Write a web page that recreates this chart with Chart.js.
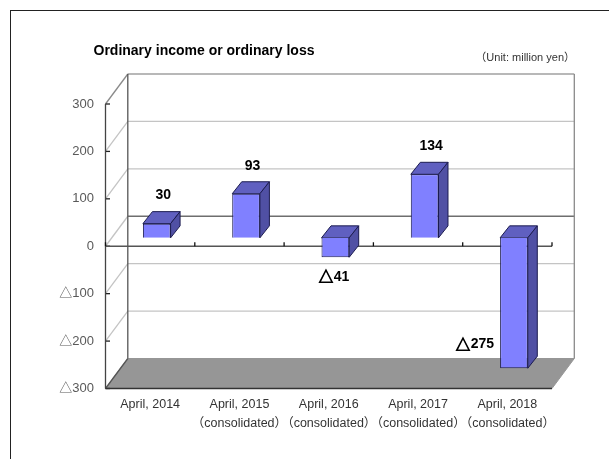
<!DOCTYPE html>
<html>
<head>
<meta charset="utf-8">
<title>Ordinary income or ordinary loss</title>
<script src="https://cdn.jsdelivr.net/npm/chart.js@4"></script>
<style>
    html, body { margin: 0; padding: 0; background: #fff; overflow: hidden; }
    #wrap { position: relative; width: 609px; height: 459px; }
    #frame { position: absolute; left: 10px; top: 10px; right: 0; bottom: 0; border-left: 1px solid #222; border-top: 1px solid #222; }
    canvas { position: absolute; left: 0; top: 0; }
</style>
</head>
<body>
<div id="wrap">
    <div id="frame"></div>
    <canvas id="chart" width="609" height="459"></canvas>
</div>
<script>
const categories = [
    ['April, 2014'],
    ['April, 2015', '（consolidated）'],
    ['April, 2016', '（consolidated）'],
    ['April, 2017', '（consolidated）'],
    ['April, 2018', '（consolidated）']
];
const values = [30, 93, -41, 134, -275];
const titleText = 'Ordinary income or ordinary loss';
const unitText = '（Unit: million yen）';

const FONT = '"Liberation Sans", "Noto Sans CJK JP", sans-serif';
const TRI_FONT = '"Noto Sans CJK JP", sans-serif';

// depth of the 3D box, and how far back the bars stand in it
const WALL_DX = 22.3, WALL_DY = -30;
const BAR_DX = 6.6, BAR_DY = -8.4;
const DEPTH_DX = 9.5, DEPTH_DY = -12;

function fmt(v) {
    return v < 0 ? '△' + (-v) : String(v);
}

function line(ctx, x1, y1, x2, y2, color) {
    ctx.strokeStyle = color;
    ctx.lineWidth = 1.3;
    ctx.beginPath();
    ctx.moveTo(x1, y1);
    ctx.lineTo(x2, y2);
    ctx.stroke();
}

function poly(ctx, pts, fill, stroke) {
    ctx.beginPath();
    pts.forEach((p, i) => i ? ctx.lineTo(p[0], p[1]) : ctx.moveTo(p[0], p[1]));
    ctx.closePath();
    ctx.fillStyle = fill;
    ctx.fill();
    ctx.strokeStyle = stroke;
    ctx.lineWidth = 1;
    ctx.stroke();
}

// right edge given, the triangle is set apart so it can be heavier than the digits
function valueLabel(ctx, v, right, y) {
    const digits = String(Math.abs(v));
    ctx.textAlign = 'right';
    ctx.font = 'bold 14px ' + FONT;
    ctx.fillText(digits, right, y);
    if (v < 0) {
        const w = ctx.measureText(digits).width;
        ctx.font = 'bold 14.5px ' + TRI_FONT;
        ctx.strokeStyle = '#000';
        ctx.lineWidth = 0.9;
        ctx.fillText('△', right - w - 0.5, y);
        ctx.strokeText('△', right - w - 0.5, y);
    }
}

const box3d = {
    id: 'box3d',
    // walls, floor, grid
    beforeDatasetsDraw(chart) {
        const { ctx, chartArea: a, scales: { x, y } } = chart;
        ctx.save();
        poly(ctx, [[a.left, a.bottom], [a.right, a.bottom], [a.right + WALL_DX, a.bottom + WALL_DY], [a.left + WALL_DX, a.bottom + WALL_DY]], '#969696', '#969696');

        y.ticks.forEach(t => {
            const py = y.getPixelForValue(t.value);
            const zero = t.value === 0;
            if (t.value !== -300) {
                const c = zero ? '#6e6e6e' : t.value === 300 ? '#a0a0a0' : '#c4c4c4';
                line(ctx, a.left + WALL_DX, py + WALL_DY, a.right + WALL_DX, py + WALL_DY, c);
                line(ctx, a.left, py, a.left + WALL_DX, py + WALL_DY, t.value === 300 ? '#8a8a8a' : '#c4c4c4');
            }
            line(ctx, a.left, py, a.left + 4.5, py, '#222');
        });

        line(ctx, a.right + WALL_DX, a.top + WALL_DY, a.right + WALL_DX, a.bottom + WALL_DY, '#8a8a8a');
        line(ctx, a.left + WALL_DX, a.top + WALL_DY, a.left + WALL_DX, a.bottom + WALL_DY, '#555');
        line(ctx, a.left, a.bottom, a.left + WALL_DX, a.bottom + WALL_DY, '#555');
        line(ctx, a.left, a.top, a.left, a.bottom, '#444');
        line(ctx, a.left, a.bottom, a.right, a.bottom, '#333');

        const zeroY = y.getPixelForValue(0);
        line(ctx, a.left, zeroY, a.right, zeroY, '#555');
        const step = (a.right - a.left) / categories.length;
        for (let i = 0; i <= categories.length; i++) {
            line(ctx, a.left + i * step, zeroY - 4, a.left + i * step, zeroY, '#111');
        }
        ctx.restore();
    },
    // bars stand mid-depth, so shift them and add top and side faces
    beforeDatasetDraw(chart, args) {
        const ctx = chart.ctx;
        ctx.save();
        ctx.translate(BAR_DX, BAR_DY);
        args.meta.data.forEach(bar => {
            const { x, y, base, width } = bar.getProps(['x', 'y', 'base', 'width'], true);
            const l = x - width / 2, r = x + width / 2;
            const top = Math.min(y, base), bottom = Math.max(y, base);
            poly(ctx, [[l, top], [r, top], [r + DEPTH_DX, top + DEPTH_DY], [l + DEPTH_DX, top + DEPTH_DY]], '#6060c0', '#1c1c50');
            poly(ctx, [[r, top], [r + DEPTH_DX, top + DEPTH_DY], [r + DEPTH_DX, bottom + DEPTH_DY], [r, bottom]], '#5050a4', '#1c1c50');
        });
    },
    afterDatasetDraw(chart) {
        chart.ctx.restore();
    },
    // value labels and the two headings
    afterDatasetsDraw(chart) {
        const ctx = chart.ctx;
        const bars = chart.getDatasetMeta(0).data;
        ctx.save();
        ctx.textBaseline = 'middle';
        ctx.fillStyle = '#000';
        values.forEach((v, i) => {
            const b = bars[i];
            if (v >= 0) {
                ctx.font = 'bold 14px ' + FONT;
                const w = ctx.measureText(String(v)).width;
                valueLabel(ctx, v, b.x + BAR_DX + 6.5 + w / 2, b.y + BAR_DY + DEPTH_DY - 16);
            } else if (v > -200) {
                valueLabel(ctx, v, b.x + BAR_DX + 14, b.y + BAR_DY + 19.5);
            } else {
                // too long to label underneath, goes beside the bar
                valueLabel(ctx, v, b.x + BAR_DX - b.width / 2 - 6, b.y + BAR_DY - 24);
            }
        });

        ctx.textAlign = 'left';
        ctx.font = 'bold 14px ' + FONT;
        ctx.fillText(titleText, 93.5, 51);
        ctx.fillStyle = '#333';
        ctx.font = '11px ' + FONT;
        ctx.textAlign = 'right';
        ctx.fillText(unitText, 575, 58);
        ctx.restore();
    }
};

new Chart(document.getElementById('chart'), {
    type: 'bar',
    data: {
        labels: categories,
        datasets: [{
            data: values,
            backgroundColor: '#8080ff',
            borderColor: '#1c1c50',
            borderWidth: 1,
            barPercentage: 0.31,
            categoryPercentage: 1
        }]
    },
    options: {
        responsive: false,
        animation: false,
        layout: { padding: { left: 0, top: 104, right: 57, bottom: 0 } },
        plugins: { legend: { display: false }, tooltip: { enabled: false } },
        scales: {
            x: {
                grid: { display: false },
                border: { display: false },
                afterFit: s => { s.height = 70.5; },
                ticks: {
                    color: '#333',
                    font: { family: FONT, size: 12.5, lineHeight: 1.5 },
                    padding: -1,
                    maxRotation: 0,
                    autoSkip: false
                }
            },
            y: {
                min: -300,
                max: 300,
                grid: { display: false },
                border: { display: false },
                afterFit: s => { s.width = 105.5; },
                ticks: {
                    stepSize: 100,
                    color: '#595959',
                    font: { family: FONT, size: 13 },
                    padding: 3.5,
                    callback: v => fmt(v)
                }
            }
        }
    },
    plugins: [box3d]
});
</script>
</body>
</html>
